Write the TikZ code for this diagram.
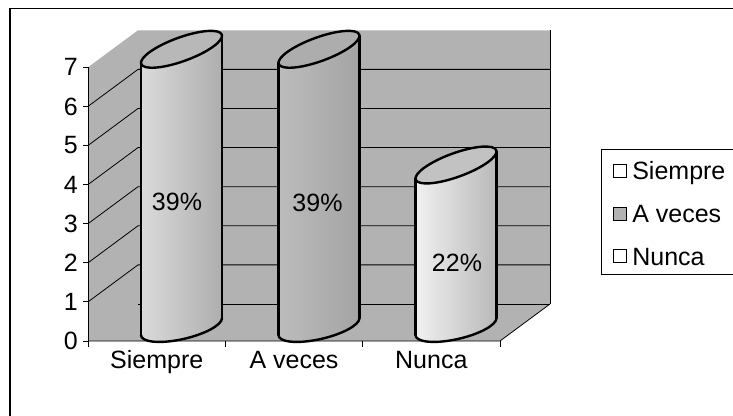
\documentclass[tikz,border=0pt]{standalone}
\usepackage{fontspec}
\setmainfont{Liberation Sans}
\usetikzlibrary{positioning}

\begin{document}
\begin{tikzpicture}[x=1pt, y=1pt, font=\fontsize{25}{30}\selectfont, node distance=28.5pt,
  grid/.style={line width=0.8pt},
  edge/.style={line width=2.4pt, line cap=round, line join=round},
  ticklabel/.style={anchor=east, inner sep=0pt},
  catlabel/.style={anchor=base, inner sep=0pt},
  key/.style={draw, line width=1.2pt, minimum size=13pt, inner sep=0pt},
  keytext/.style={inner sep=0pt, text height=17.9pt, text depth=0pt}]
\useasboundingbox (0,0) rectangle (733,415);
\clip (0,0) rectangle (733,415);
\draw[line width=1.5pt] (10,-10) rectangle (750,406.5);
\fill[black!30] (88,74) -- (88,347.7) -- (138,384.7) -- (550,384.7) -- (550,111) -- (500,74) -- cycle;
\draw[grid] (138,111) -- (550,111);
\draw[grid] (88,113.1) -- (138,150.1) -- (550,150.1);
\draw[grid] (88,152.2) -- (138,189.2) -- (550,189.2);
\draw[grid] (88,191.3) -- (138,228.3) -- (550,228.3);
\draw[grid] (88,230.4) -- (138,267.4) -- (550,267.4);
\draw[grid] (88,269.5) -- (138,306.5) -- (550,306.5);
\draw[grid] (88,308.6) -- (138,345.6) -- (550,345.6);
\draw[grid] (550,111) -- (550,384.7);
\draw[grid] (88,74) -- (500,74) -- (550,111);
\draw[grid] (88,74) -- (88,347.7);
\draw[grid] (83,74) -- (88,74);
\draw[grid] (83,113.1) -- (88,113.1);
\draw[grid] (83,152.2) -- (88,152.2);
\draw[grid] (83,191.3) -- (88,191.3);
\draw[grid] (83,230.4) -- (88,230.4);
\draw[grid] (83,269.5) -- (88,269.5);
\draw[grid] (83,308.6) -- (88,308.6);
\draw[grid] (83,347.7) -- (88,347.7);
\draw[grid] (88,74) -- (88,68);
\draw[grid] (225.3,74) -- (225.3,68);
\draw[grid] (362.7,74) -- (362.7,68);
\draw[grid] (500,74) -- (500,68);
\node (y0)[ticklabel] at (78,74) {0};
\node (y1)[ticklabel] at (78,113.1) {1};
\node (y2)[ticklabel] at (78,152.2) {2};
\node (y3)[ticklabel] at (78,191.3) {3};
\node (y4)[ticklabel] at (78,230.4) {4};
\node (y5)[ticklabel] at (78,269.5) {5};
\node (y6)[ticklabel] at (78,308.6) {6};
\node (y7)[ticklabel] at (78,347.7) {7};
\shade[left color=black!14, right color=black!32] (141,80.1) -- (222,96.9) -- (222,379.2) -- (141,352.2) -- cycle (181.5,88.5) circle[x radius=41.5, y radius=12.6, rotate=13];
\filldraw[edge, fill=black!28] (181.5,365.7) circle[x radius=42.9, y radius=11.9, rotate=20];
\draw[edge] (141,80.1) -- (141,352.2);
\draw[edge] (222,96.9) -- (222,379.2);
\draw[edge, shift={(181.5,88.5)}, rotate=13] (356:41.5 and 12.6) arc[start angle=356, end angle=176, x radius=41.5, y radius=12.6];
\shade[left color=black!26, right color=black!36] (278.5,80.1) -- (359.5,96.9) -- (359.5,379.2) -- (278.5,352.2) -- cycle (319,88.5) circle[x radius=41.5, y radius=12.6, rotate=13];
\filldraw[edge, fill=black!32] (319,365.7) circle[x radius=42.9, y radius=11.9, rotate=20];
\draw[edge] (278.5,80.1) -- (278.5,352.2);
\draw[edge] (359.5,96.9) -- (359.5,379.2);
\draw[edge, shift={(319,88.5)}, rotate=13] (356:41.5 and 12.6) arc[start angle=356, end angle=176, x radius=41.5, y radius=12.6];
\shade[left color=black!5, right color=black!28] (415.5,80.1) -- (496.5,96.9) -- (496.5,263.5) -- (415.5,236.5) -- cycle (456,88.5) circle[x radius=41.5, y radius=12.6, rotate=13];
\filldraw[edge, fill=black!24] (456,250) circle[x radius=42.9, y radius=11.9, rotate=20];
\draw[edge] (415.5,80.1) -- (415.5,236.5);
\draw[edge] (496.5,96.9) -- (496.5,263.5);
\draw[edge, shift={(456,88.5)}, rotate=13] (356:41.5 and 12.6) arc[start angle=356, end angle=176, x radius=41.5, y radius=12.6];
\node (p1) at (177,213) {39\%};
\node (p2) at (317.5,212) {39\%};
\node (p3) at (457,152.5) {22\%};
\node (c1)[catlabel] at (156.7,47) {Siempre};
\node (c2)[catlabel] at (294,47) {A veces};
\node (c3)[catlabel] at (431.3,47) {Nunca};
\draw[line width=1pt] (601.7,140) rectangle (750,265.7);
\node (k1)[key] at (620,244) {};
\node (k2)[key, fill=black!30, below=of k1] {};
\node (k3)[key, below=of k2] {};
\node (l1)[keytext, right=5pt of k1] {Siempre};
\node (l2)[keytext, right=5pt of k2] {A veces};
\node (l3)[keytext, right=5pt of k3] {Nunca};
\end{tikzpicture}
\end{document}
